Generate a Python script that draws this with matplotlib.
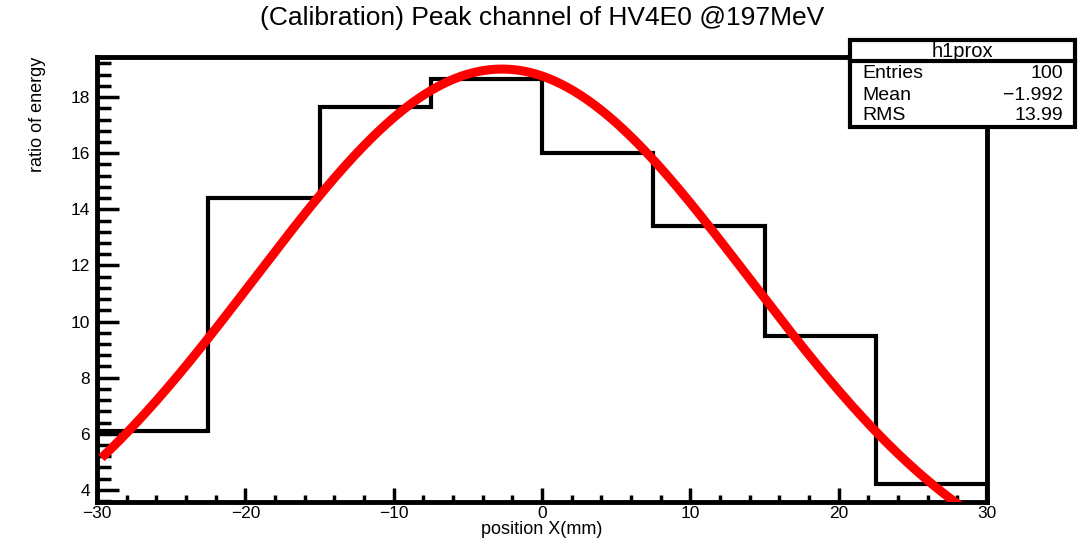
import numpy as np
import matplotlib
matplotlib.use("Agg")
import matplotlib.pyplot as plt
from matplotlib.ticker import MultipleLocator, FuncFormatter
from matplotlib.patches import Rectangle
from matplotlib.lines import Line2D

plt.rcParams['font.family'] = ['Liberation Sans', 'DejaVu Sans']

# histogram data
bin_edges = [-30, -22.5, -15, -7.5, 0, 7.5, 15, 22.5, 30]
bin_values = [6.1, 14.4, 17.65, 18.65, 16.0, 13.4, 9.5, 4.2]

# gaussian fit parameters
fit_amp = 19.0
fit_mean = -2.7
fit_sigma = 16.7
fit_range = [-29.7, 30]

stats_labels = ["Entries", "Mean", "RMS"]
stats_values = ["100", "\u22121.992", "13.99"]

fig = plt.figure(figsize=(10.88, 5.45), dpi=100)
ax = fig.add_axes([97/1088, 43/545, 890/1088, 445/545])

ax.stairs(bin_values, bin_edges, color='black', linewidth=3.0, zorder=2)

xf = np.linspace(fit_range[0], fit_range[1], 400)
yf = fit_amp * np.exp(-(xf - fit_mean)**2 / (2 * fit_sigma**2))
ax.plot(xf, yf, color='#ff0000', linewidth=6.5, solid_capstyle='butt', zorder=3)

ax.set_xlim(-30, 30)
ax.set_ylim(3.57, 19.43)

for s in ax.spines.values():
    s.set_linewidth(3.5)

ax.xaxis.set_major_locator(MultipleLocator(10))
ax.xaxis.set_minor_locator(MultipleLocator(2))
ax.yaxis.set_major_locator(MultipleLocator(2))
ax.yaxis.set_minor_locator(MultipleLocator(0.4))
ax.tick_params(which='both', direction='in', top=False, right=False, width=2.5)
ax.tick_params(axis='x', which='major', length=10, labelsize=12.5, pad=3)
ax.tick_params(axis='x', which='minor', length=5)
ax.tick_params(axis='y', which='major', length=16, labelsize=12.5, pad=5)
ax.tick_params(axis='y', which='minor', length=10)
ax.xaxis.set_major_formatter(FuncFormatter(lambda v, p: f"{v:g}".replace('-', '\u2212')))
ax.yaxis.set_major_formatter(FuncFormatter(lambda v, p: f"{v:g}"))

ax.set_xlabel("position X(mm)", fontsize=13, labelpad=0)
ax.set_ylabel("ratio of energy", fontsize=13, loc='top', labelpad=18)

fig.text(542/1088, 1 - 18/545, "(Calibration) Peak channel of HV4E0 @197MeV",
         ha='center', va='center', fontsize=19)

# stats box
bx0, bx1 = 850/1088, 1075/1088
by_top, by_bot = 1 - 40/545, 1 - 127/545
by_div = 1 - 61/545
fig.patches.append(Rectangle((bx0, by_bot), bx1 - bx0, by_top - by_bot,
                             transform=fig.transFigure, facecolor='white',
                             edgecolor='black', linewidth=3.0, zorder=5))
fig.lines.append(Line2D([bx0, bx1], [by_div, by_div], transform=fig.transFigure,
                        color='black', linewidth=3.0, zorder=6))
fig.text((bx0 + bx1) / 2, 1 - 51/545, "h1prox", ha='center', va='center',
         fontsize=14.5, zorder=7)
row_y = [74, 95, 116]
for lab, val, yy in zip(stats_labels, stats_values, row_y):
    fig.text(862/1088, 1 - yy/545, lab, ha='left', va='center', fontsize=14, zorder=7)
    fig.text(1063/1088, 1 - yy/545, val, ha='right', va='center', fontsize=14, zorder=7)

fig.savefig("out.png", dpi=100)
